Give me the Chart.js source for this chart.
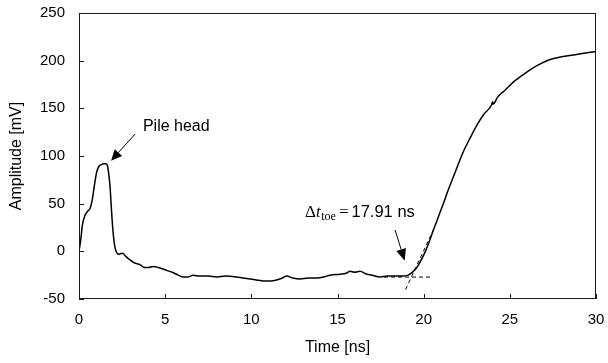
<!DOCTYPE html>
<html>
<head>
<meta charset="utf-8">
<script src="https://cdn.jsdelivr.net/npm/chart.js@4/dist/chart.umd.min.js"></script>
<style>
  html, body { margin: 0; padding: 0; background: #fff; }
  #wrap { width: 608px; height: 363px; position: relative; }
</style>
</head>
<body>
<div id="wrap"><canvas id="chart"></canvas></div>
<script>
// ==================== DATA ====================
const timeNs = [
  0, 0.1, 0.2, 0.35, 0.5, 0.64, 0.77, 0.9, 1.03, 1.15, 1.3, 1.45, 1.55, 1.64, 1.72, 1.8, 1.88, 1.95, 2.05, 2.15,
  2.28, 2.4, 2.53, 2.7, 2.96, 3.2, 3.54, 3.8, 4.02, 4.31, 4.6, 5.09, 5.4, 5.76, 6.05, 6.3, 6.63, 7.0, 7.5, 7.99,
  8.5, 9.15, 9.5, 9.92, 10.3, 10.7, 11.1, 11.47, 11.8, 12.05, 12.4, 12.83, 13.3, 13.8, 14.2, 14.57, 15.15, 15.5,
  15.73, 16.0, 16.3, 16.7, 17.0, 17.47, 17.9, 18.44, 18.8, 19.1, 19.4, 19.6, 19.8, 20.1, 20.3, 20.56, 20.85, 21.14,
  21.42, 21.72, 22.0, 22.3, 22.7, 23.08, 23.5, 23.95, 24.0, 24.03, 24.3, 24.72, 25.3, 25.98, 26.6, 27.3, 28.0,
  28.7, 29.4, 30.0,
];
const amplitudeMv = [
  0, 12, 28, 38, 42, 45, 54, 70, 83.5, 89, 91, 92, 92, 90.5, 82, 68, 45, 26, 8, 0,
  -3, -2.5, -2, -5, -9, -12, -14, -17, -17, -16, -17, -20, -22, -25, -27, -27, -25, -26, -26, -27,
  -26, -27, -28, -29, -30, -31, -31, -30, -28, -26, -28, -29, -28, -28, -27, -25, -24, -23,
  -21, -22, -21, -24, -25, -27, -26, -26, -26, -25, -21, -17, -11, 0, 9, 22, 36, 50,
  64, 78, 91, 104.5, 119, 132, 144, 154, 157, 154.5, 162, 169, 179, 188, 195, 201, 204,
  206, 208, 209.5,
];
const xTicks = [0, 5, 10, 15, 20, 25, 30];
const yTicks = [-50, 0, 50, 100, 150, 200, 250];

// construction lines for the toe (dashed), in data units
const baselineX = [17.7, 20.45];
const baselineY = [-27, -27];
const tangentX = [18.95, 20.55];
const tangentY = [-40, 22];

// annotation anchors, in data units: [x, y]
const pileHeadLabel = [3.71, 126];
const pileHeadArrow = [[3.25, 123], [1.86, 95]];
const toeLabel = [13.12, 36];
const toeArrow = [[18.34, 22.4], [18.9, -10]];

// ==================== PLUGINS ====================
const frame = {
  id: 'frame',
  afterDraw(chart) {
    const { ctx, chartArea: a, scales } = chart;
    ctx.save();
    ctx.strokeStyle = '#1a1a1a';
    ctx.lineWidth = 1;
    ctx.strokeRect(a.left + 0.5, a.top + 0.5, a.right - a.left - 1, a.bottom - a.top - 1);
    ctx.beginPath();
    xTicks.forEach((v) => {
      const px = Math.round(scales.x.getPixelForValue(v)) + 0.5;
      ctx.moveTo(px, a.bottom);
      ctx.lineTo(px, a.bottom - 5);
    });
    yTicks.forEach((v) => {
      const py = Math.round(scales.y.getPixelForValue(v)) + 0.5;
      ctx.moveTo(a.left, py);
      ctx.lineTo(a.left + 5, py);
    });
    ctx.stroke();
    ctx.restore();
  },
};

function arrow(ctx, x1, y1, x2, y2, head, half) {
  const ang = Math.atan2(y2 - y1, x2 - x1);
  const bx = x2 - head * Math.cos(ang);
  const by = y2 - head * Math.sin(ang);
  ctx.beginPath();
  ctx.moveTo(x1, y1);
  ctx.lineTo(bx, by);
  ctx.stroke();
  ctx.beginPath();
  ctx.moveTo(x2, y2);
  ctx.lineTo(bx + half * Math.sin(ang), by - half * Math.cos(ang));
  ctx.lineTo(bx - half * Math.sin(ang), by + half * Math.cos(ang));
  ctx.closePath();
  ctx.fill();
}

const notes = {
  id: 'notes',
  afterDraw(chart) {
    const { ctx, scales } = chart;
    const px = (p) => [scales.x.getPixelForValue(p[0]), scales.y.getPixelForValue(p[1])];
    ctx.save();
    ctx.fillStyle = '#000';
    ctx.strokeStyle = '#000';
    ctx.lineWidth = 1;

    // Pile head
    const [lx, ly] = px(pileHeadLabel);
    ctx.font = '16px "Liberation Sans", Arial, sans-serif';
    ctx.textBaseline = 'alphabetic';
    ctx.fillText('Pile head', lx, ly);
    const [a1x, a1y] = px(pileHeadArrow[0]);
    const [a2x, a2y] = px(pileHeadArrow[1]);
    arrow(ctx, a1x, a1y, a2x, a2y, 11, 5);

    // Delta t_toe label
    let [tx, ty] = px(toeLabel);
    ctx.font = '17px "Liberation Serif", "Times New Roman", serif';
    ctx.fillText('\u0394', tx, ty);
    tx += ctx.measureText('\u0394').width;
    ctx.font = 'italic 17px "Liberation Serif", "Times New Roman", serif';
    ctx.fillText('t', tx, ty);
    tx += ctx.measureText('t').width + 0.5;
    ctx.font = '12px "Liberation Serif", "Times New Roman", serif';
    ctx.fillText('toe', tx, ty + 3);
    tx += ctx.measureText('toe').width + 3;
    ctx.font = '17px "Liberation Serif", "Times New Roman", serif';
    ctx.fillText('=', tx, ty);
    tx += ctx.measureText('=').width + 3;
    ctx.font = '16.5px "Liberation Sans", Arial, sans-serif';
    ctx.fillText('17.91 ns', tx, ty);
    const [b1x, b1y] = px(toeArrow[0]);
    const [b2x, b2y] = px(toeArrow[1]);
    arrow(ctx, b1x, b1y, b2x, b2y, 12, 5);
    ctx.restore();
  },
};

// ==================== CHART ====================
const ctx = document.getElementById('chart').getContext('2d');
new Chart(ctx, {
  type: 'line',
  data: {
    datasets: [
      {
        data: timeNs.map((t, i) => ({ x: t, y: amplitudeMv[i] })),
        borderColor: '#000',
        borderWidth: 1.5,
        pointRadius: 0,
        cubicInterpolationMode: 'monotone',
        order: 1,
      },
      {
        data: baselineX.map((t, i) => ({ x: t, y: baselineY[i] })),
        borderColor: '#000',
        borderWidth: 1,
        borderDash: [4, 3],
        pointRadius: 0,
        order: 2,
      },
      {
        data: tangentX.map((t, i) => ({ x: t, y: tangentY[i] })),
        borderColor: '#000',
        borderWidth: 1,
        borderDash: [4, 3],
        pointRadius: 0,
        order: 2,
      },
    ],
  },
  options: {
    responsive: true,
    maintainAspectRatio: false,
    animation: false,
    layout: { padding: { top: 13, right: 12, left: 0, bottom: 0 } },
    plugins: { legend: { display: false }, tooltip: { enabled: false } },
    scales: {
      x: {
        type: 'linear',
        min: 0,
        max: 30,
        afterBuildTicks: (s) => { s.ticks = xTicks.map((v) => ({ value: v })); },
        afterFit: (s) => { s.height = 64; s.paddingLeft = 0; s.paddingRight = 0; },
        grid: { display: false, drawTicks: false },
        border: { display: false },
        ticks: { padding: 12, color: '#000', font: { family: '"Liberation Sans", Arial, sans-serif', size: 15 } },
        title: {
          display: true,
          text: 'Time [ns]',
          color: '#000',
          padding: { top: 0, bottom: 6 },
          font: { family: '"Liberation Sans", Arial, sans-serif', size: 16 },
        },
      },
      y: {
        min: -50,
        max: 250,
        afterBuildTicks: (s) => { s.ticks = yTicks.map((v) => ({ value: v })); },
        afterFit: (s) => { s.width = 79; s.paddingTop = 0; s.paddingBottom = 0; },
        grid: { display: false, drawTicks: false },
        border: { display: false },
        ticks: { padding: 14, color: '#000', font: { family: '"Liberation Sans", Arial, sans-serif', size: 15 } },
        title: {
          display: true,
          text: 'Amplitude [mV]',
          color: '#000',
          padding: { top: 7, bottom: 0 },
          font: { family: '"Liberation Sans", Arial, sans-serif', size: 16 },
        },
      },
    },
  },
  plugins: [frame, notes],
});
</script>
</body>
</html>
